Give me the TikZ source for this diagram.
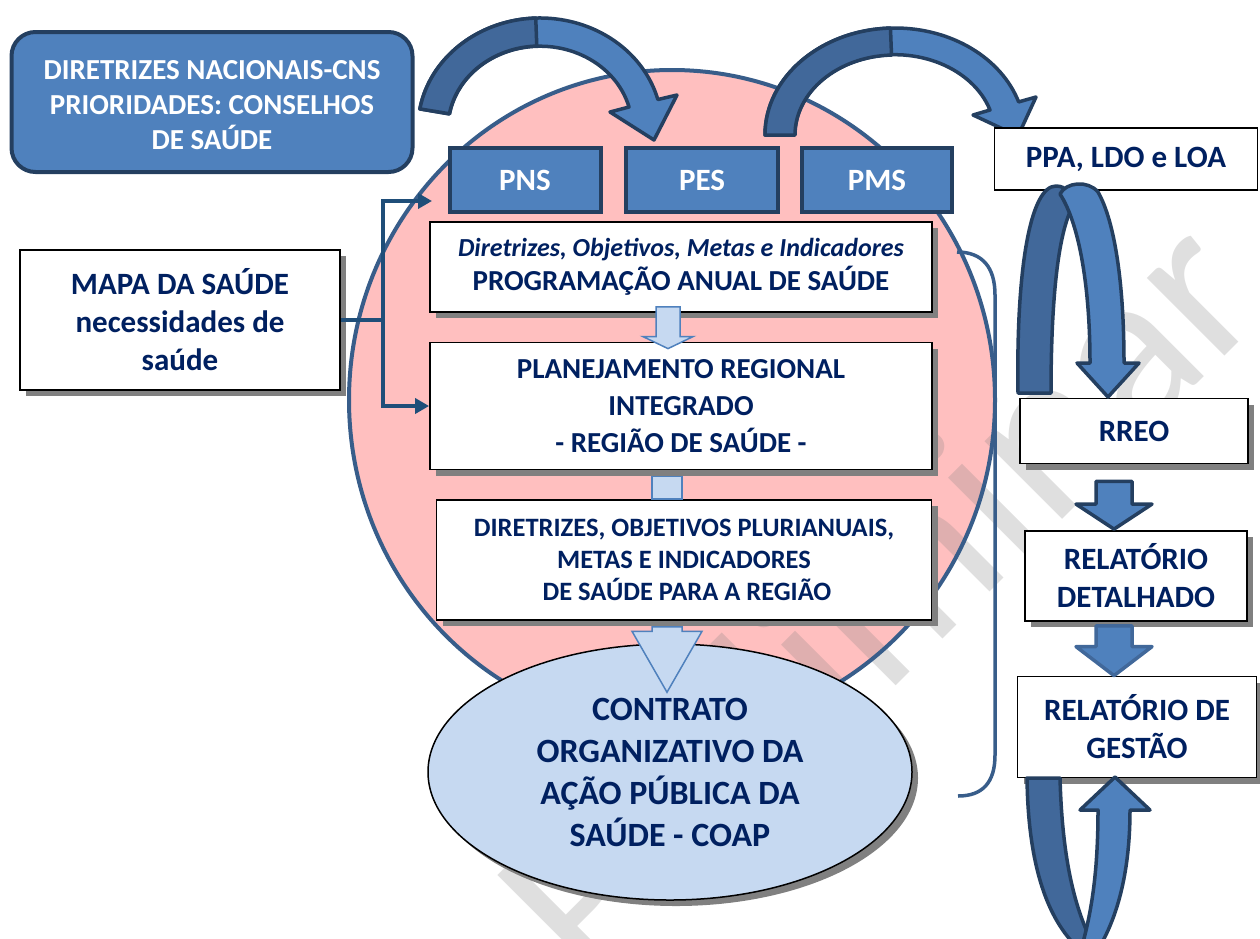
\documentclass[tikz,border=0pt]{standalone}
\usepackage{fontspec}
\setmainfont{Carlito}
\usetikzlibrary{calc,shapes.geometric,shadows,arrows.meta}

\definecolor{planblue}{HTML}{4F81BD}
\definecolor{planshade}{HTML}{41689A}
\definecolor{planedge}{HTML}{243F60}
\definecolor{navy}{HTML}{002060}
\definecolor{ringfill}{HTML}{FFBFBF}
\definecolor{ringedge}{HTML}{385D8A}
\definecolor{paleblue}{HTML}{C6D9F1}
\definecolor{linkblue}{HTML}{1F4E79}

\newcommand\fsz[2]{\fontsize{#1}{#2}\selectfont}

% block arrow pointing down: [style]{from}{tip}{half shaft}{half head}{head length}
\newcommand\fatdown[6][bigarrow]{%
  \draw[#1] let \p1=(#2), \p2=(#3) in
    (\x2-#4,\y1) -- (\x2-#4,\y2+#6) -- (\x2-#5,\y2+#6) -- (\x2,\y2)
    -- (\x2+#5,\y2+#6) -- (\x2+#4,\y2+#6) -- (\x2+#4,\y1) -- cycle;}

\tikzset{
  planbox/.style={draw=planedge, fill=planblue, line width=4pt, text=white,
    font=\bfseries\fsz{31}{36}, align=center, inner sep=0pt},
  plainbox/.style={draw=black, fill=white, line width=1.8pt, text=navy,
    font=\bfseries\fsz{31}{38}, align=center, inner sep=0pt},
  docbox/.style={plainbox,
    drop shadow={shadow xshift=6pt, shadow yshift=-6pt, fill=black!50, opacity=1}},
  bigarrow/.style={draw=planedge, fill=planblue, line width=3.5pt, line join=round},
  bigshade/.style={bigarrow, fill=planshade},
  smallarrow/.style={draw=planblue, fill=paleblue, line width=1.5pt},
  link/.style={draw=linkblue, line width=4pt},
}

\begin{document}
\begin{tikzpicture}[x=1pt,y=-1pt,>={Triangle[length=14pt,width=15pt]}]
\useasboundingbox (0,0) rectangle (1260,938);
\fill[ringfill] (672,400) ellipse [x radius=323, y radius=330];
\node[rotate=45, text=gray, text opacity=.25, font=\fsz{230}{230}] (wm) at (875,595) {Preliminar};
\draw[ringedge, line width=4pt] (672,400) ellipse [x radius=323, y radius=330];
\draw[ringedge, line width=3.5pt] (957,252) .. controls (983,252) and (995,268) .. (995,295)
  -- (995,755) .. controls (995,782) and (983,796) .. (958,796);

% curved arrows over the top
\draw[bigarrow] (540,128) ++(190:122 and 110) arc[start angle=190, end angle=345, x radius=122, y radius=110]
  -- (677,95) -- (654,140) -- (610,112) -- (629,107)
  arc[start angle=345, end angle=190, x radius=92, y radius=82] -- cycle;
\draw[bigshade] (540,128) ++(190:122 and 110) arc[start angle=190, end angle=268, x radius=122, y radius=110]
  -- ($(540,128)+(268:92 and 82)$) arc[start angle=268, end angle=190, x radius=92, y radius=82] -- cycle;
\draw[bigarrow] (895,135) ++(180:130 and 107) arc[start angle=180, end angle=342, x radius=130, y radius=107]
  -- (1036,97) -- (1018,136) -- (973,115) -- (990,110)
  arc[start angle=342, end angle=180, x radius=100, y radius=80] -- cycle;
\draw[bigshade] (895,135) ++(180:130 and 107) arc[start angle=180, end angle=268, x radius=130, y radius=107]
  -- ($(895,135)+(268:100 and 80)$) arc[start angle=268, end angle=180, x radius=100, y radius=80] -- cycle;

\node[planbox, rounded corners=24pt, minimum width=401pt, minimum height=140pt,
  font=\bfseries\fsz{29}{35}] (dirnac) at (212,102) {\rule{0pt}{26pt}DIRETRIZES NACIONAIS-CNS\\PRIORIDADES: CONSELHOS\\DE SAÚDE};
\node[docbox, minimum width=320pt, minimum height=140pt] (mapa) at (180,320) {MAPA DA SAÚDE\\necessidades de\\saúde};
\node[planbox, minimum width=151pt, minimum height=64pt] (pns) at (525,180) {PNS};
\node[planbox, minimum width=152pt, minimum height=64pt] (pes) at (702,180) {PES};
\node[planbox, minimum width=150pt, minimum height=64pt] (pms) at (877,180) {PMS};
\node[docbox, minimum width=502pt, minimum height=90pt, font=\bfseries\fsz{29}{34}] (pas) at (681,267)
  {{\itshape\fsz{26}{34}Diretrizes, Objetivos, Metas e Indicadores}\\PROGRAMAÇÃO ANUAL DE SAÚDE};
\node[docbox, minimum width=502pt, minimum height=127pt, font=\bfseries\fsz{29}{37}] (pri) at (681,406)
  {PLANEJAMENTO REGIONAL\\INTEGRADO\\- REGIÃO DE SAÚDE -};
\node[docbox, minimum width=495pt, minimum height=120pt, font=\bfseries\fsz{26.5}{32}] (dir) at (684,560)
  {DIRETRIZES, OBJETIVOS PLURIANUAIS,\\METAS E INDICADORES\\\ DE SAÚDE PARA A REGIÃO};
\node[docbox, ellipse, fill=paleblue, line width=1.5pt, minimum width=484pt, minimum height=256pt,
  font=\bfseries\fsz{34}{42}] (coap) at (670,772) {CONTRATO\\ORGANIZATIVO DA\\AÇÃO PÚBLICA DA\\SAÚDE - COAP};

\node[plainbox, minimum width=263pt, minimum height=62pt] (ppa) at (1126,159) {PPA, LDO e LOA};
\node[docbox, minimum width=228pt, minimum height=65pt] (rreo) at (1134,431) {RREO};
\node[docbox, minimum width=222pt, minimum height=90pt] (det) at (1136,576) {RELATÓRIO\\DETALHADO};
\node[docbox, minimum width=239pt, minimum height=101pt] (gestao) at (1137,727) {RELATÓRIO DE\\GESTÃO};

\draw[link] (mapa.east) -- ++(42,0) coordinate (split);
\coordinate (pnsin) at (432,201);
\draw[link,->] (split) |- (pnsin);
\draw[link,->] (split) |- (pri.west);

\fatdown[smallarrow]{$(pas.south)+(-13,-6)$}{$(pri.north)+(-13,7)$}{12pt}{25pt}{12pt}
\draw[smallarrow] ($(pri.south)+(-29,6)$) rectangle ($(dir.north)+(-2,0)$);
\fatdown[smallarrow]{$(dir.south)+(-17,6)$}{$(coap.north)+(-3,49)$}{15pt}{35pt}{61pt}

\fatdown{$(rreo.south)+(-20,17)$}{$(det.north)+(-22,-1)$}{18pt}{38pt}{25pt}
\fatdown[bigarrow, draw=planshade]{$(det.south)+(-22,4)$}{$(gestao.north)+(-23,0)$}{18pt}{38pt}{29pt}

% loop from PPA down to RREO
\draw[bigshade] (1018,393) .. controls (1016,270) and (1030,186) .. (1056,186)
  .. controls (1066,186) and (1072,194) .. (1074,204)
  .. controls (1058,230) and (1051,300) .. (1051,393) -- cycle;
\draw[bigarrow] (1060,194) .. controls (1066,182) and (1088,180) .. (1098,192)
  .. controls (1114,220) and (1124,280) .. (1124,363) -- (1139,363) -- (1108,397) -- (1077,363) -- (1090,363)
  .. controls (1090,290) and (1080,225) .. (1060,194) -- cycle;
% loop from the management report back up
\draw[bigshade] (1027,778) -- (1060,778) .. controls (1062,850) and (1072,905) .. (1094,946)
  -- (1076,946) .. controls (1045,915) and (1028,860) .. (1027,778) -- cycle;
\draw[bigarrow] (1098,810) -- (1080,810) -- (1115,777) -- (1150,810) -- (1130,810)
  .. controls (1130,870) and (1118,915) .. (1100,946) -- (1082,946)
  .. controls (1092,910) and (1098,870) .. (1098,810) -- cycle;
\end{tikzpicture}
\end{document}
